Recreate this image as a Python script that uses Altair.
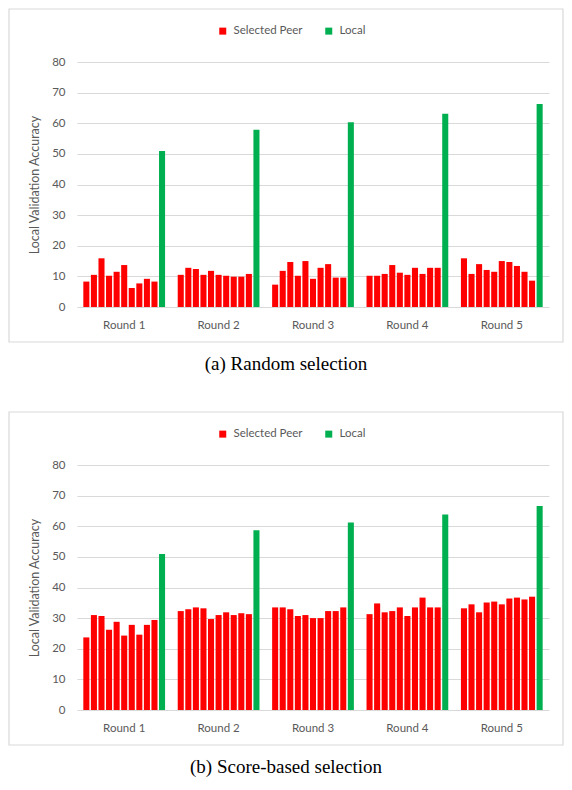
import altair as alt
import pandas as pd

rounds = ["Round 1", "Round 2", "Round 3", "Round 4", "Round 5"]
series_names = ["Selected Peer", "Local"]
series_colors = ["#FF0000", "#00B050"]

random_peers = [
    [8.3, 10.5, 15.9, 10.2, 11.5, 13.7, 6.2, 7.7, 9.2, 8.3],
    [10.5, 12.8, 12.4, 10.5, 11.8, 10.5, 10.2, 9.9, 9.9, 10.8],
    [7.3, 11.8, 14.7, 10.2, 15.0, 9.2, 12.8, 14.0, 9.6, 9.6],
    [10.2, 10.2, 10.8, 13.7, 11.2, 10.5, 12.8, 10.8, 12.8, 12.8],
    [15.9, 10.8, 14.0, 12.1, 11.5, 15.0, 14.7, 13.4, 11.5, 8.6],
]
random_local = [50.9, 57.9, 60.3, 63.1, 66.3]

score_peers = [
    [23.7, 31.0, 30.7, 26.2, 28.8, 24.3, 27.8, 24.6, 27.8, 29.4],
    [32.3, 32.9, 33.5, 33.2, 29.7, 31.0, 31.9, 31.0, 31.6, 31.3],
    [33.5, 33.5, 32.9, 30.7, 31.0, 30.0, 30.0, 32.3, 32.3, 33.5],
    [31.3, 34.8, 31.9, 32.3, 33.5, 30.7, 33.5, 36.7, 33.5, 33.5],
    [33.2, 34.5, 31.9, 35.1, 35.4, 34.5, 36.4, 36.7, 36.1, 37.0],
]
score_local = [50.9, 58.7, 61.2, 63.8, 66.6]

y_ticks = list(range(0, 90, 10))
captions = ["(a) Random selection", "(b) Score-based selection"]

W = 472
H = 245
FONT = "Lato"
GRAY = "#595959"
BORDER = "#d9d9d9"


def panel(peers, local, caption):
    rows = []
    for r, name in enumerate(rounds):
        for i, v in enumerate(peers[r]):
            rows.append({"round": name, "idx": i, "value": v, "series": series_names[0]})
        rows.append({"round": name, "idx": len(peers[r]), "value": local[r], "series": series_names[1]})
    df = pd.DataFrame(rows)

    bars = alt.Chart(df).mark_bar().encode(
        x=alt.X(
            "round:N",
            sort=rounds,
            scale=alt.Scale(paddingInner=0.134, paddingOuter=0.067),
            axis=alt.Axis(
                title=None, labelAngle=0, domain=False, ticks=False, grid=False,
                labelFont=FONT, labelFontSize=11.5, labelColor=GRAY, labelPadding=12,
            ),
        ),
        xOffset=alt.XOffset("idx:O", scale=alt.Scale(paddingInner=0.2, paddingOuter=0)),
        y=alt.Y(
            "value:Q",
            scale=alt.Scale(domain=[0, 80], nice=False),
            axis=alt.Axis(
                values=y_ticks, title="Local Validation Accuracy", domain=False, ticks=False,
                grid=True, gridColor=BORDER, gridWidth=1,
                labelFont=FONT, labelFontSize=11.5, labelColor=GRAY, labelPadding=12,
                titleFont=FONT, titleFontSize=12.5, titleColor=GRAY, titleFontWeight="normal",
                titlePadding=10,
            ),
        ),
        color=alt.Color(
            "series:N",
            scale=alt.Scale(domain=series_names, range=series_colors),
            legend=alt.Legend(
                title=None, orient="none", legendX=140, legendY=-37, direction="horizontal",
                symbolType="square", symbolSize=49, symbolStrokeWidth=0,
                labelFont=FONT, labelFontSize=11.5, labelColor=GRAY, labelOffset=5,
                columnPadding=20,
            ),
        ),
    )

    one = pd.DataFrame({"k": [0]})
    box = alt.Chart(one).mark_rect(filled=False, stroke=BORDER, strokeWidth=1.2).encode(
        x=alt.value(-68), x2=alt.value(W + 14), y=alt.value(-53), y2=alt.value(H + 35)
    )
    cap = alt.Chart(one).mark_text(
        font="Liberation Serif", fontSize=19, color="black", baseline="alphabetic", align="center"
    ).encode(x=alt.value((W - 54) / 2), y=alt.value(H + 63), text=alt.value(caption))

    return alt.layer(bars, box, cap).properties(width=W, height=H)


pa = panel(random_peers, random_local, captions[0])
pb = panel(score_peers, score_local, captions[1])

chart = (
    alt.vconcat(pa, pb, spacing=37)
    .resolve_scale(color="independent")
    .resolve_legend(color="independent")
    .properties(padding=0)
    .configure_view(stroke=None)
)

chart.save("out.html", embed_options={"renderer": "svg", "actions": False})
